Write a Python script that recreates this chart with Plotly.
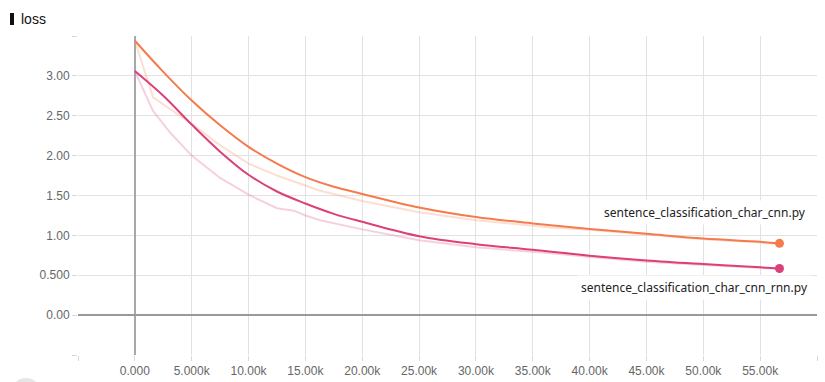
import plotly.graph_objects as go

# ---- data ----
cnn_raw_step = [0, 1600, 5000, 7500, 10000, 12500, 15000, 16300, 20000, 25000, 30000, 35000, 36600, 40000, 45000, 50000, 55000, 56700]
cnn_raw_loss = [3.44, 2.73, 2.40, 2.13, 1.90, 1.75, 1.625, 1.56, 1.43, 1.29, 1.19, 1.125, 1.10, 1.07, 1.01, 0.95, 0.91, 0.89]

rnn_raw_step = [0, 1600, 3100, 5000, 7500, 10000, 12500, 14000, 15000, 16300, 20000, 25000, 30000, 35000, 36600, 40000, 45000, 50000, 55000, 56700]
rnn_raw_loss = [3.06, 2.56, 2.29, 2.00, 1.72, 1.51, 1.34, 1.31, 1.25, 1.19, 1.075, 0.94, 0.85, 0.80, 0.775, 0.73, 0.67, 0.63, 0.59, 0.58]

cnn_smooth_step = [0, 2500, 5000, 7500, 10000, 12500, 15000, 17500, 20000, 25000, 30000, 35000, 40000, 45000, 50000, 55000, 56700]
cnn_smooth_loss = [3.44, 3.05, 2.69, 2.38, 2.11, 1.90, 1.73, 1.61, 1.52, 1.35, 1.23, 1.15, 1.08, 1.02, 0.96, 0.92, 0.90]

rnn_smooth_step = [0, 2500, 5000, 7500, 10000, 12500, 15000, 17500, 20000, 25000, 30000, 35000, 40000, 45000, 50000, 55000, 56700]
rnn_smooth_loss = [3.06, 2.75, 2.39, 2.05, 1.76, 1.55, 1.40, 1.27, 1.17, 0.99, 0.89, 0.82, 0.745, 0.685, 0.64, 0.60, 0.585]

run_names = ["sentence_classification_char_cnn.py", "sentence_classification_char_cnn_rnn.py"]

x_tickvals = [-5000, 0, 5000, 10000, 15000, 20000, 25000, 30000, 35000, 40000, 45000, 50000, 55000, 60000]
x_ticktext = ["", "0.000", "5.000k", "10.00k", "15.00k", "20.00k", "25.00k", "30.00k", "35.00k", "40.00k", "45.00k", "50.00k", "55.00k", ""]
y_tickvals = [-0.5, 0, 0.5, 1.0, 1.5, 2.0, 2.5, 3.0, 3.5]
y_ticktext = ["", "0.00", "0.500", "1.00", "1.50", "2.00", "2.50", "3.00", ""]

ORANGE = "#f47b4c"
PINK = "#dc4078"
ORANGE_RAW = "rgba(250,160,120,0.35)"
PINK_RAW = "rgba(230,120,165,0.35)"

fig = go.Figure()
fig.add_trace(go.Scatter(x=cnn_raw_step, y=cnn_raw_loss, mode="lines",
                         line=dict(color=ORANGE_RAW, width=2), hoverinfo="skip"))
fig.add_trace(go.Scatter(x=rnn_raw_step, y=rnn_raw_loss, mode="lines",
                         line=dict(color=PINK_RAW, width=2), hoverinfo="skip"))
fig.add_trace(go.Scatter(x=cnn_smooth_step, y=cnn_smooth_loss, mode="lines",
                         line=dict(color=ORANGE, width=2, shape="spline", smoothing=1.0), name=run_names[0]))
fig.add_trace(go.Scatter(x=rnn_smooth_step, y=rnn_smooth_loss, mode="lines",
                         line=dict(color=PINK, width=2, shape="spline", smoothing=1.0), name=run_names[1]))
fig.add_trace(go.Scatter(x=[cnn_smooth_step[-1]], y=[cnn_smooth_loss[-1]], mode="markers",
                         marker=dict(color=ORANGE, size=9)))
fig.add_trace(go.Scatter(x=[rnn_smooth_step[-1]], y=[rnn_smooth_loss[-1]], mode="markers",
                         marker=dict(color=PINK, size=9)))

W, H = 825, 382
L, R, T, B = 78, 8, 36, 27
pw, ph = W - L - R, H - T - B

def px_x(px):
    return (px - L) / pw

def px_y(py):
    return (H - B - py) / ph

label_font = dict(family="Noto Sans, Open Sans, sans-serif", size=12, color="#222")
annotations = [
    dict(text=run_names[0], xref="paper", yref="paper", x=px_x(810), y=px_y(212),
         xanchor="right", yanchor="middle", showarrow=False, font=label_font,
         bgcolor="white", borderpad=3),
    dict(text=run_names[1], xref="paper", yref="paper", x=px_x(812), y=px_y(287),
         xanchor="right", yanchor="middle", showarrow=False, font=label_font,
         bgcolor="white", borderpad=3),
    dict(text="loss", xref="paper", yref="paper", x=px_x(19), y=px_y(19),
         xanchor="left", yanchor="middle", showarrow=False,
         font=dict(family="Liberation Sans, Arial, sans-serif", size=14, color="#111")),
]

shapes = [
    dict(type="rect", xref="paper", yref="paper", x0=px_x(10), x1=px_x(14),
         y0=px_y(25), y1=px_y(13), fillcolor="#111", line=dict(width=0)),
    dict(type="circle", xref="paper", yref="paper", x0=px_x(11), x1=px_x(41),
         y0=px_y(408), y1=px_y(378), fillcolor="#e6e6e6", line=dict(width=0)),
]

fig.update_layout(
    template="none",
    width=W, height=H,
    margin=dict(l=L, r=R, t=T, b=B, pad=0, autoexpand=False),
    paper_bgcolor="white", plot_bgcolor="white",
    showlegend=False,
    annotations=annotations,
    shapes=shapes,
    font=dict(family="Liberation Sans, Arial, sans-serif", size=12, color="#666"),
)
fig.update_xaxes(range=[-5000, 60000], tickvals=x_tickvals, ticktext=x_ticktext,
                 automargin=False,
                 showgrid=True, gridcolor="#e2e2e2", gridwidth=1,
                 zeroline=True, zerolinecolor="#a8a8a8", zerolinewidth=2,
                 ticks="outside", ticklen=5, tickcolor="#d8d8d8",
                 showline=False, tickfont=dict(size=12, color="#666"))
fig.update_yaxes(range=[-0.5, 3.5], tickvals=y_tickvals, ticktext=y_ticktext,
                 automargin=False,
                 showgrid=True, gridcolor="#e2e2e2", gridwidth=1,
                 zeroline=True, zerolinecolor="#999999", zerolinewidth=1.5,
                 ticks="outside", ticklen=5, tickcolor="#d8d8d8",
                 showline=False, tickfont=dict(size=12, color="#666"))

fig.write_html("out.html", config={"displayModeBar": False},
               post_script="document.body.style.margin='0';document.body.style.padding='0';document.body.style.overflow='hidden';")
